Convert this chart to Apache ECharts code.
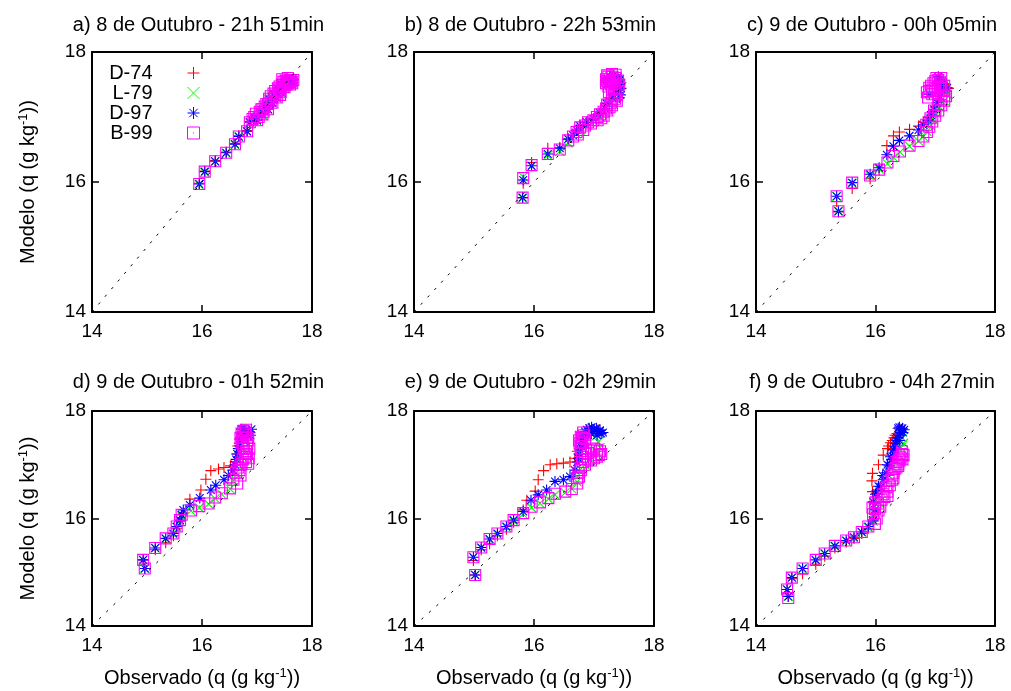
<!DOCTYPE html>
<html><head><meta charset="utf-8">
<script src="https://cdn.jsdelivr.net/npm/echarts@6/dist/echarts.min.js"></script>
<style>html,body{margin:0;padding:0;background:#fff}#c{width:1011px;height:691px}</style>
</head><body><div id="c"></div>
<script>
// ---------- data ----------
const titles = ['a) 8 de Outubro - 21h 51min','b) 8 de Outubro - 22h 53min','c) 9 de Outubro - 00h 05min',
                'd) 9 de Outubro - 01h 52min','e) 9 de Outubro - 02h 29min','f) 9 de Outubro - 04h 27min'];
const seriesNames = ['D-74','L-79','D-97','B-99'];
const axisTicks = [14, 16, 18];
const diagonal = [14, 18];

const a_D74 = [[15.95,15.98],[16.05,16.17],[16.24,16.33],[16.44,16.46],[16.6,16.59],[16.67,16.71],[16.82,16.79],[16.87,16.93],[16.95,17.01],[17.0,16.96],[17.05,17.09],[17.1,17.05],[17.14,17.17],[17.2,17.13],[17.22,17.29],[17.28,17.23],[17.3,17.37],[17.36,17.31],[17.38,17.45],[17.43,17.39],[17.45,17.51],[17.5,17.47],[17.52,17.57],[17.56,17.53],[17.6,17.58],[17.64,17.53],[17.66,17.58]];
const a_L79 = [[15.95,15.96],[16.05,16.15],[16.24,16.31],[16.44,16.44],[16.6,16.57],[16.67,16.69],[16.82,16.77],[16.87,16.91],[16.95,16.99],[17.0,16.94],[17.05,17.07],[17.1,17.03],[17.14,17.15],[17.2,17.11],[17.22,17.27],[17.28,17.21],[17.3,17.35],[17.36,17.29],[17.38,17.43],[17.43,17.37],[17.45,17.49],[17.5,17.45],[17.52,17.55],[17.56,17.51],[17.6,17.56],[17.64,17.51],[17.66,17.56]];
const a_D97 = [[15.95,15.97],[16.05,16.16],[16.24,16.32],[16.44,16.45],[16.6,16.58],[16.67,16.7],[16.82,16.78],[16.87,16.92],[16.95,17.0],[17.0,16.95],[17.05,17.08],[17.1,17.04],[17.14,17.16],[17.2,17.12],[17.22,17.28],[17.28,17.22],[17.3,17.36],[17.36,17.3],[17.38,17.44],[17.43,17.38],[17.45,17.5],[17.5,17.46],[17.52,17.56],[17.56,17.52],[17.6,17.57],[17.64,17.52],[17.66,17.57]];
const a_B99 = [[15.95,15.97],[16.05,16.16],[16.24,16.32],[16.44,16.45],[16.6,16.58],[16.67,16.7],[16.82,16.78],[16.87,16.92],[16.95,17.0],[17.0,16.95],[17.05,17.08],[17.1,17.04],[17.14,17.16],[17.2,17.12],[17.22,17.28],[17.28,17.22],[17.3,17.36],[17.36,17.3],[17.38,17.44],[17.43,17.38],[17.45,17.5],[17.5,17.46],[17.52,17.56],[17.56,17.52],[17.6,17.57],[17.64,17.52],[17.66,17.57],[17.46,17.58],[17.56,17.6],[17.2,17.2],[17.1,17.12],
  [16.92,16.97],[16.98,17.05],[17.03,17.0],[17.08,17.12],[17.12,17.08],[17.17,17.2],[17.25,17.25],[17.25,17.32],[17.33,17.33],[17.33,17.4],[17.4,17.41],[17.41,17.47],[17.48,17.49],[17.48,17.54],[17.54,17.55],[17.58,17.54],[17.62,17.55],[17.6,17.5],[17.53,17.5],[17.42,17.34]];

const b_D74 = [[15.81,15.76],[15.82,15.98],[15.96,16.3],[16.23,16.52],[16.43,16.53],[16.57,16.66],[16.71,16.79],[16.77,16.86],[16.88,16.92],[16.99,16.97],[17.1,17.05],[17.18,17.12],[17.21,17.2],[17.3,17.28],[17.33,17.35],[17.38,17.42],[17.42,17.5],[17.4,17.57],[17.35,17.61],[17.28,17.62],[17.22,17.6],[17.2,17.53]];
const b_L79 = [[15.81,15.75],[15.82,16.08],[15.96,16.24],[16.23,16.41],[16.43,16.47],[16.57,16.6],[16.71,16.74],[16.77,16.8],[16.88,16.87],[16.99,16.93],[17.1,17.0],[17.18,17.07],[17.21,17.15],[17.3,17.22],[17.33,17.3],[17.38,17.38],[17.42,17.46],[17.4,17.53],[17.35,17.58],[17.28,17.6],[17.22,17.58],[17.2,17.5]];
const b_D97 = [[15.81,15.76],[15.82,16.03],[15.96,16.25],[16.23,16.43],[16.43,16.52],[16.57,16.66],[16.65,16.72],[16.71,16.8],[16.77,16.86],[16.88,16.92],[16.99,16.97],[17.1,17.06],[17.18,17.13],[17.21,17.21],[17.3,17.3],[17.36,17.36],[17.4,17.43],[17.43,17.5],[17.43,17.57],[17.4,17.62],[17.33,17.64],[17.26,17.63],[17.22,17.58],[17.44,17.34],[17.45,17.44],[17.42,17.3]];
const b_B99 = [[15.81,15.76],[15.82,16.06],[15.96,16.26],[16.23,16.43],[16.43,16.5],[16.57,16.64],[16.65,16.7],[16.71,16.77],[16.77,16.84],[16.85,16.87],[16.9,16.92],[16.99,16.95],[17.05,17.0],[17.1,17.04],[17.12,16.98],[17.16,17.08],[17.22,17.1],[17.2,17.13],[17.22,17.19],[17.3,17.18],[17.28,17.22],[17.3,17.27],[17.38,17.25],[17.33,17.33],[17.37,17.38],[17.4,17.44],[17.42,17.5],[17.4,17.56],[17.36,17.6],[17.3,17.62],[17.24,17.62],[17.2,17.58],[17.2,17.52],[17.24,17.47],[17.28,17.5],[17.32,17.55],
  [17.22,17.55],[17.26,17.58],[17.3,17.57],[17.34,17.52],[17.26,17.54],[17.22,17.64],[17.3,17.66],[17.36,17.65],[17.34,17.45],[17.3,17.42],[17.25,17.38],[17.35,17.28],[17.26,17.15],[17.16,17.02],[17.06,16.95],[16.95,16.9],[16.82,16.8],[16.73,16.73]];

const c_D74 = [[15.38,15.54],[15.35,15.7],[15.61,15.9],[15.91,16.05],[16.06,16.18],[16.19,16.56],[16.3,16.71],[16.4,16.77],[16.57,16.81],[16.72,16.86],[16.8,16.92],[16.88,17.0],[16.95,17.08],[17.0,17.15],[17.05,17.25],[17.1,17.32],[17.15,17.4],[17.22,17.44],[17.12,17.48],[17.1,17.55],[17.08,17.6]];
const c_L79 = [[15.38,15.55],[15.35,15.78],[15.61,15.98],[15.91,16.1],[16.06,16.2],[16.2,16.28],[16.3,16.38],[16.41,16.46],[16.57,16.55],[16.72,16.63],[16.8,16.7],[16.86,16.78],[16.92,16.87],[16.97,16.96],[17.02,17.05],[17.08,17.15],[17.15,17.25],[17.2,17.35],[17.18,17.42],[17.15,17.5],[17.12,17.58]];
const c_D97 = [[15.38,15.55],[15.35,15.78],[15.61,15.99],[15.91,16.12],[16.06,16.22],[16.19,16.42],[16.3,16.55],[16.4,16.64],[16.57,16.71],[16.72,16.8],[16.8,16.88],[16.88,16.95],[16.93,17.03],[16.98,17.12],[17.03,17.22],[17.08,17.32],[17.12,17.42],[17.1,17.5],[17.08,17.58],[17.05,17.62],[17.2,17.45],[16.9,17.35]];
const c_B99 = [[15.38,15.55],[15.35,15.78],[15.61,15.99],[15.91,16.1],[16.06,16.19],[16.2,16.3],[16.3,16.4],[16.41,16.47],[16.57,16.56],[16.72,16.63],[16.8,16.7],[16.86,16.77],[16.9,16.85],[16.95,16.93],[17.0,17.02],[17.05,17.1],[17.1,17.18],[17.15,17.25],[17.15,17.33],[17.12,17.4],[17.05,17.46],[17.08,17.53],[17.1,17.6],[17.02,17.6],[16.97,17.52],[16.9,17.45],[16.86,17.38],[16.88,17.3],[16.95,17.35],[17.15,17.48],
  [17.05,17.57],[17.1,17.5],[17.0,17.55],[16.93,17.48],[16.9,17.4],[16.95,17.42],[17.0,17.4],[17.08,17.44],[17.15,17.4],[17.18,17.32],[17.1,17.28],[17.05,17.2],[16.98,17.1],[16.92,16.98],[16.85,16.88]];

const d_D74 = [[14.96,15.07],[14.93,15.23],[15.15,15.42],[15.34,15.55],[15.48,15.68],[15.54,15.82],[15.6,15.95],[15.66,16.1],[15.78,16.36],[15.98,16.53],[16.07,16.73],[16.16,16.89],[16.3,16.92],[16.4,16.95],[16.52,16.98],[16.6,17.05],[16.63,17.2],[16.65,17.35],[16.68,17.48],[16.72,17.58],[16.76,17.65]];
const d_L79 = [[14.96,15.07],[14.93,15.23],[15.15,15.45],[15.34,15.62],[15.48,15.7],[15.54,15.83],[15.6,15.95],[15.63,16.05],[15.8,16.14],[15.95,16.2],[16.12,16.27],[16.24,16.37],[16.36,16.45],[16.51,16.55],[16.57,16.7],[16.62,16.85],[16.67,17.0],[16.72,17.15],[16.75,17.3],[16.78,17.45],[16.8,17.58]];
const d_D97 = [[14.96,15.07],[14.93,15.23],[15.15,15.45],[15.34,15.63],[15.48,15.72],[15.54,15.85],[15.6,15.97],[15.63,16.07],[15.66,16.16],[15.78,16.25],[15.96,16.38],[16.16,16.53],[16.25,16.62],[16.4,16.72],[16.48,16.8],[16.56,16.9],[16.6,17.0],[16.62,17.1],[16.64,17.2],[16.66,17.3],[16.68,17.4],[16.7,17.5],[16.75,17.58],[16.8,17.65],[16.85,17.62],[16.88,17.55],[16.72,17.66],[16.9,17.66]];
const d_B99 = [[14.96,15.07],[14.93,15.23],[15.15,15.45],[15.34,15.63],[15.48,15.72],[15.54,15.85],[15.6,15.97],[15.63,16.07],[15.8,16.15],[15.95,16.23],[16.12,16.28],[16.24,16.39],[16.36,16.47],[16.51,16.56],[16.57,16.72],[16.62,16.85],[16.66,16.95],[16.72,17.02],[16.8,17.05],[16.85,17.12],[16.82,17.2],[16.76,17.3],[16.72,17.4],[16.7,17.5],[16.72,17.58],[16.75,17.63],[16.8,17.55],[16.83,17.45],
  [16.68,16.9],[16.7,17.0],[16.74,17.1],[16.78,17.15],[16.8,17.25],[16.75,17.35],[16.73,17.45],[16.74,17.52],[16.78,17.6],[16.8,17.65],[16.84,17.5],[16.82,17.38],[16.86,17.3],[16.84,17.02],[16.7,16.8],[16.64,16.65]];

const e_D74 = [[15.02,14.95],[14.99,15.22],[15.12,15.42],[15.26,15.53],[15.39,15.68],[15.54,15.8],[15.66,15.93],[15.82,16.16],[15.88,16.34],[16.02,16.51],[16.07,16.72],[16.16,16.89],[16.27,17.0],[16.38,17.02],[16.49,17.03],[16.6,17.05],[16.68,17.12],[16.72,17.25],[16.78,17.4],[16.85,17.52],[16.95,17.6],[17.07,17.65]];
const e_L79 = [[15.02,14.95],[14.99,15.28],[15.12,15.45],[15.26,15.6],[15.39,15.7],[15.54,15.83],[15.66,15.95],[15.82,16.08],[15.96,16.2],[16.1,16.28],[16.24,16.36],[16.35,16.44],[16.52,16.48],[16.63,16.55],[16.72,16.68],[16.78,16.85],[16.85,17.0],[16.95,17.1],[17.05,17.22],[17.1,17.32],[17.07,17.42],[17.02,17.52]];
const e_D97 = [[15.02,14.95],[14.99,15.28],[15.12,15.46],[15.26,15.62],[15.39,15.72],[15.54,15.85],[15.66,15.97],[15.82,16.13],[15.95,16.34],[16.07,16.44],[16.21,16.53],[16.35,16.69],[16.49,16.72],[16.6,16.78],[16.68,16.9],[16.72,17.05],[16.75,17.2],[16.8,17.35],[16.82,17.5],[16.85,17.62],[16.92,17.68],[17.0,17.66],[17.08,17.62],[17.12,17.58],[16.95,17.58],
  [16.88,17.65],[16.96,17.7],[17.04,17.68],[17.1,17.64],[17.15,17.6],[17.05,17.55],[16.9,17.55],[16.78,17.42],[16.76,17.28],[16.74,17.12]];
const e_B99 = [[15.02,14.95],[14.99,15.28],[15.12,15.46],[15.26,15.62],[15.39,15.72],[15.54,15.85],[15.66,15.97],[15.82,16.1],[15.96,16.22],[16.1,16.3],[16.24,16.38],[16.35,16.46],[16.52,16.5],[16.63,16.55],[16.72,16.65],[16.75,16.78],[16.78,16.9],[16.85,17.0],[16.95,17.08],[17.05,17.15],[17.12,17.2],[17.05,17.28],[16.95,17.25],[16.85,17.2],[16.78,17.3],[16.76,17.4],[16.8,17.5],[16.83,17.55],
  [16.72,16.75],[16.74,16.85],[16.78,16.95],[16.82,17.05],[16.9,17.1],[17.0,17.12],[17.08,17.18],[17.1,17.25],[17.0,17.3],[16.9,17.22],[16.8,17.15],[16.78,17.35],[16.75,17.45],[16.78,17.52],[16.82,17.6],[16.85,17.48],[16.8,17.42]];

const f_D74 = [[14.54,14.55],[14.52,14.68],[14.6,14.88],[14.78,14.97],[15.0,15.15],[15.15,15.3],[15.32,15.45],[15.51,15.56],[15.64,15.63],[15.77,15.72],[15.88,15.82],[15.96,15.95],[15.99,16.12],[15.97,16.3],[15.95,16.5],[15.94,16.7],[15.95,16.84],[16.05,17.0],[16.13,17.18],[16.2,17.3],[16.25,17.41],[16.31,17.5],[16.36,17.58],[16.41,17.66],[16.22,17.35],[16.28,17.45],[16.33,17.55]];
const f_L79 = [[14.54,14.55],[14.52,14.68],[14.6,14.9],[14.78,15.06],[15.0,15.22],[15.15,15.34],[15.32,15.48],[15.51,15.58],[15.64,15.63],[15.77,15.74],[15.88,15.83],[15.96,15.95],[16.0,16.1],[16.05,16.3],[16.1,16.48],[16.16,16.65],[16.22,16.8],[16.28,16.95],[16.33,17.1],[16.38,17.22],[16.43,17.32],[16.47,17.4],[16.45,17.5]];
const f_D97 = [[14.54,14.55],[14.52,14.68],[14.6,14.9],[14.78,15.07],[15.0,15.23],[15.15,15.35],[15.32,15.49],[15.51,15.59],[15.64,15.65],[15.77,15.75],[15.88,15.85],[15.96,15.97],[15.99,16.16],[15.96,16.31],[16.02,16.47],[16.08,16.59],[16.13,16.72],[16.18,16.85],[16.23,16.98],[16.27,17.1],[16.3,17.22],[16.33,17.33],[16.36,17.45],[16.4,17.55],[16.43,17.65],[16.38,17.68],[16.46,17.6],
  [16.36,17.5],[16.42,17.6],[16.45,17.68],[16.33,17.4],[16.3,17.28],[16.25,17.15],[16.2,17.0],[16.12,16.8],[16.05,16.6],[16.0,16.45],[16.4,17.7],[16.48,17.65],[16.4,17.45]];
const f_B99 = [[14.54,14.52],[14.52,14.68],[14.6,14.9],[14.78,15.07],[15.0,15.23],[15.15,15.35],[15.32,15.49],[15.51,15.59],[15.64,15.65],[15.77,15.75],[15.88,15.85],[15.99,15.9],[16.02,16.0],[15.96,16.08],[15.99,16.18],[16.04,16.28],[16.1,16.35],[16.13,16.45],[16.18,16.58],[16.22,16.7],[16.27,16.8],[16.32,16.92],[16.38,17.02],[16.42,17.12],[16.45,17.2],[16.4,17.15],[16.35,17.05],
  [16.15,16.4],[16.2,16.5],[16.24,16.62],[16.28,16.72],[16.3,16.85],[16.35,16.95],[16.4,17.08],[16.45,17.1],[16.47,17.18],[16.44,17.25],[16.38,16.98],[16.3,16.75],[16.2,16.42],[16.05,16.15],[15.95,16.2],[16.0,16.3],[16.08,16.22]];

const panelData = [
  [a_D74, a_L79, a_D97, a_B99],
  [b_D74, b_L79, b_D97, b_B99],
  [c_D74, c_L79, c_D97, c_B99],
  [d_D74, d_L79, d_D97, d_B99],
  [e_D74, e_L79, e_D97, e_B99],
  [f_D74, f_L79, f_D97, f_B99]
];

// ---------- styling / layout ----------
const FONT = '"Liberation Sans", Arial, Helvetica, sans-serif';
const colors = ['#ff0000', '#00ff00', '#0000ff', '#ff00ff'];
const symbols = [
  'path://M5,0L5,10M0,5L10,5',
  'path://M0,0L10,10M10,0L0,10',
  'path://M5,0L5,10M0,5L10,5M1.5,1.5L8.5,8.5M8.5,1.5L1.5,8.5',
  'path://M0,0L10,0L10,10L0,10ZM4.5,5L5.5,5'
];
const symbolSizes = [11, 9, 11, 11];
const grids = [
  {left: 92, top: 52, width: 220, height: 260},
  {left: 414, top: 52, width: 240, height: 260},
  {left: 756, top: 52, width: 239, height: 260},
  {left: 92, top: 411, width: 220, height: 215},
  {left: 414, top: 411, width: 240, height: 215},
  {left: 756, top: 411, width: 239, height: 215}
];
const titleTops = [15, 15, 15, 372, 372, 372];

const richName = {
  a: {fontSize: 20, fontFamily: FONT, color: '#000', lineHeight: 22},
  s: {fontSize: 13, fontFamily: FONT, color: '#000', lineHeight: 13, verticalAlign: 'top'}
};
const xName = '{a|Observado (q (g kg}{s|-1}{a|))}';
const yName = '{a|Modelo (q (g kg}{s|-1}{a|))}';

const axMin = axisTicks[0], axMax = axisTicks[axisTicks.length - 1], axStep = axisTicks[1] - axisTicks[0];
const lineStyle = {color: '#000', width: 2};
const tickStyle = {inside: true, length: 7, lineStyle: {color: '#000', width: 1.5}};

const xAxes = [], yAxes = [], series = [], titleArr = [];
grids.forEach((g, i) => {
  const bottomRow = i >= 3, leftCol = (i % 3) === 0;
  xAxes.push({
    gridIndex: i, type: 'value', min: axMin, max: axMax, interval: axStep, position: 'bottom',
    axisLine: {show: true, onZero: false, lineStyle}, axisTick: tickStyle, splitLine: {show: false},
    axisLabel: {fontSize: 19, color: '#000', fontFamily: FONT, margin: 10},
    name: bottomRow ? xName : '', nameLocation: 'middle', nameGap: 41,
    nameTextStyle: {rich: richName}
  });
  xAxes.push({
    gridIndex: i, type: 'value', min: axMin, max: axMax, interval: axStep, position: 'top',
    axisLine: {show: true, onZero: false, lineStyle}, axisTick: tickStyle, splitLine: {show: false},
    axisLabel: {show: false}
  });
  yAxes.push({
    gridIndex: i, type: 'value', min: axMin, max: axMax, interval: axStep, position: 'left',
    axisLine: {show: true, onZero: false, lineStyle}, axisTick: tickStyle, splitLine: {show: false},
    axisLabel: {fontSize: 19, color: '#000', fontFamily: FONT, margin: 6},
    name: leftCol ? yName : '', nameLocation: 'middle', nameGap: 53, nameRotate: 90,
    nameTextStyle: {rich: richName}
  });
  yAxes.push({
    gridIndex: i, type: 'value', min: axMin, max: axMax, interval: axStep, position: 'right',
    axisLine: {show: true, onZero: false, lineStyle}, axisTick: tickStyle, splitLine: {show: false},
    axisLabel: {show: false}
  });
  titleArr.push({
    text: titles[i], left: g.left + g.width / 2 - 3.5, top: titleTops[i], textAlign: 'center', padding: 0,
    textStyle: {fontSize: 20, fontWeight: 'normal', color: '#000', fontFamily: FONT}
  });
  panelData[i].forEach((d, k) => {
    series.push({
      type: 'scatter', name: seriesNames[k], xAxisIndex: 2 * i, yAxisIndex: 2 * i,
      data: d, symbol: symbols[k], symbolSize: symbolSizes[k], silent: true,
      itemStyle: {color: 'none', borderColor: colors[k], borderWidth: 1.1, opacity: 1},
      emphasis: {disabled: true}
    });
  });
  series.push({
    type: 'line', xAxisIndex: 2 * i, yAxisIndex: 2 * i, z: 5, silent: true,
    data: [[diagonal[0], diagonal[0]], [diagonal[1], diagonal[1]]],
    symbol: 'none', lineStyle: {color: '#000', width: 1, type: [2.5, 7.5]}
  });
});

const chart = echarts.init(document.getElementById('c'), null, {renderer: 'canvas'});
chart.setOption({
  animation: false,
  backgroundColor: '#fff',
  title: titleArr,
  grid: grids,
  xAxis: xAxes,
  yAxis: yAxes,
  legend: {
    data: seriesNames.map((n, k) => ({name: n, icon: symbols[k]})),
    orient: 'vertical', align: 'right', right: 809, top: 63, padding: 0,
    itemWidth: 12, itemHeight: 12, itemGap: 0, selectedMode: false,
    textStyle: {fontSize: 20, fontFamily: FONT, color: '#000', lineHeight: 16, padding: [0, 30, 0, 0]},
    itemStyle: {borderWidth: 1}
  },
  series
});
</script></body></html>
